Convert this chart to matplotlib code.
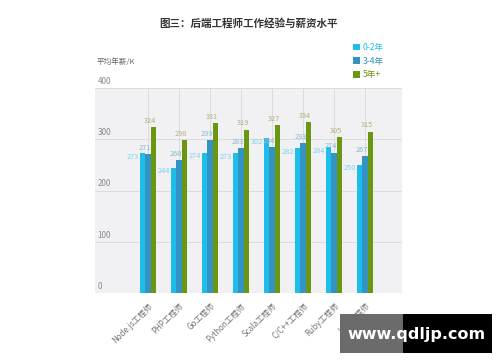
import matplotlib
matplotlib.use("Agg")
import matplotlib.pyplot as plt
import matplotlib.transforms as mtransforms
from matplotlib.patches import Rectangle
import numpy as np

plt.rcParams['font.family'] = ['Noto Sans CJK SC', 'DejaVu Sans']

categories = ["Node.js工程师", "PHP工程师", "Go工程师", "Python工程师",
              "Scala工程师", "C/C++工程师", "Ruby工程师", "Java工程师"]
series_names = ["0-2年", "3-4年", "5年+"]
exp_0_2 = [273, 244, 274, 273, 302, 282, 284, 250]
exp_3_4 = [271, 260, 299, 283, 284, 293, 274, 267]
exp_5p = [324, 298, 331, 319, 327, 334, 305, 315]
yticks = [0, 100, 200, 300, 400]
title = "图三：后端工程师工作经验与薪资水平"
ylabel = "平均年薪/K"

bar_colors = ["#1dbdec", "#3393c2", "#6b9611"]
label_colors = ["#7dd3ee", "#8bb6cf", "#b3b07a"]

W, H = 500, 362
fig = plt.figure(figsize=(W / 100, H / 100), dpi=100)
ax = fig.add_axes([95 / W, (H - 293) / H, (402 - 95) / W, (293 - 88) / H])
ax.set_facecolor("#f1f1f3")
for s in ax.spines.values():
    s.set_visible(False)

x = np.arange(len(categories))
bw = 0.18
series = [exp_0_2, exp_3_4, exp_5p]
for i, (vals, c) in enumerate(zip(series, bar_colors)):
    ax.bar(x + (i - 1) * bw, vals, width=bw, color=c, zorder=3, label=series_names[i])

# value labels
for j in range(len(categories)):
    # 0-2: to the left of the bar, around its top
    ax.annotate(str(exp_0_2[j]), (x[j] - 1.5 * bw, exp_0_2[j]), xytext=(-0.5, -2.5),
                textcoords="offset points", ha="right", va="center",
                fontsize=5.3, color=label_colors[0], zorder=4)
    ax.annotate(str(exp_3_4[j]), (x[j], exp_3_4[j]), xytext=(-2, 1.5),
                textcoords="offset points", ha="center", va="bottom",
                fontsize=5.3, color=label_colors[1], zorder=4)
    ax.annotate(str(exp_5p[j]), (x[j] + bw, exp_5p[j]), xytext=(-2.5, 1.5),
                textcoords="offset points", ha="center", va="bottom",
                fontsize=5.3, color=label_colors[2], zorder=4)

ax.set_xlim(-1.71, len(categories) - 1 + 1.19)
ax.set_ylim(0, 400)
ax.set_yticks(yticks)
ax.set_yticklabels([])
ax.tick_params(axis="y", length=0)
ax.grid(axis="y", color="#dcdcdc", linewidth=0.7, zorder=1)
ax.grid(axis="x", color="#dcdcdc", linewidth=0.7, zorder=1)
ax.axhline(0, color="#d5d5d5", linewidth=0.8, zorder=2)

trans = mtransforms.blended_transform_factory(ax.transAxes, ax.transData)
for t in yticks:
    ax.annotate(str(t), (0.008, t), xycoords=trans, xytext=(0, 1.5),
                textcoords="offset points", ha="left", va="bottom",
                fontsize=5.8, color="#8a8a8a")

ax.set_xticks(x)
ax.set_xticklabels(categories, rotation=45, ha="right", va="top",
                   rotation_mode="anchor", fontsize=5.8, color="#777777")
ax.tick_params(axis="x", length=0, pad=6)

fig.text(248 / W, 1 - 23 / H, title, ha="center", va="center",
         fontsize=7.6, fontweight="bold", color="#333333")
fig.text(97 / W, 1 - 62 / H, ylabel, ha="left", va="center",
         fontsize=5.5, color="#666666")

handles, labels = ax.get_legend_handles_labels()
leg = fig.legend(handles, labels, loc="upper left",
                 bbox_to_anchor=(347 / W, 1 - 37 / H), frameon=False,
                 fontsize=6.2, handlelength=0.8, handleheight=0.8,
                 handletextpad=0.3, labelspacing=0.55, borderpad=0.2,
                 labelcolor=bar_colors)

# watermark overlay
fig.patches.append(Rectangle((340 / W, 1 - 353 / H), (403 - 340) / W, 39 / H,
                             transform=fig.transFigure, facecolor="#6b6b6b",
                             edgecolor="none", zorder=10))
fig.patches.append(Rectangle((403 / W, 1 - 353 / H), (492 - 403) / W, 39 / H,
                             transform=fig.transFigure, facecolor="#000000",
                             edgecolor="none", zorder=10))
fig.text(416 / W, 1 - 334 / H, "www.qdljp.com", ha="center", va="center",
         fontsize=11.5, fontweight="bold", color="white", zorder=11,
         family=["DejaVu Sans"])

fig.savefig("out.png", dpi=100, facecolor="white")
